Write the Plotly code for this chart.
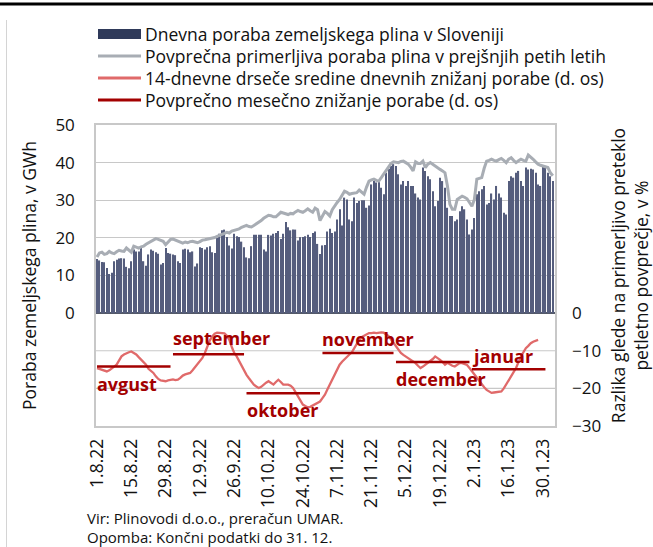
import plotly.graph_objects as go
import pandas as pd

# ---------------- data ----------------
start_date = "2022-08-01"

# daily natural gas consumption in Slovenia, GWh (1.8.2022 - 3.2.2023)
daily_use = [
    14.4, 14.0, 13.6, 13.5, 12.0, 10.4, 10.7, 13.8, 14.2, 14.5,
    14.6, 14.5, 12.3, 11.9, 13.8, 16.9, 16.4, 16.4, 17.3, 13.8,
    12.6, 15.6, 16.9, 16.6, 16.2, 15.8, 12.9, 13.3, 17.3, 16.0,
    15.8, 15.6, 15.4, 13.8, 13.3, 16.9, 17.1, 16.9, 16.2, 16.4,
    12.4, 13.2, 17.5, 17.3, 16.9, 17.5, 17.8, 16.2, 16.0, 20.0,
    21.1, 22.0, 22.2, 20.2, 18.0, 17.2, 21.1, 20.4, 20.2, 19.0,
    17.5, 14.8, 14.6, 17.8, 20.8, 20.8, 20.8, 20.8, 16.9, 16.4,
    20.8, 20.6, 21.1, 21.3, 21.8, 19.7, 21.1, 24.2, 22.8, 22.0,
    22.2, 22.2, 19.3, 20.2, 20.2, 20.4, 20.8, 20.2, 21.3, 21.7,
    18.4, 15.7, 18.0, 18.1, 21.7, 22.4, 21.3, 21.7, 24.9, 27.6,
    23.3, 30.7, 30.2, 24.9, 24.4, 30.7, 29.3, 29.8, 30.0, 30.0,
    28.0, 28.6, 34.2, 35.1, 34.7, 35.1, 33.3, 31.6, 37.3, 38.4,
    39.1, 39.6, 39.1, 36.9, 34.2, 35.1, 33.8, 35.1, 33.8, 33.8,
    31.8, 30.7, 30.2, 38.7, 37.8, 36.4, 35.6, 32.4, 28.4, 29.8,
    36.0, 35.1, 33.3, 28.0, 25.8, 25.8, 24.4, 24.9, 27.1, 28.4,
    27.6, 24.9, 20.9, 22.2, 25.3, 31.6, 32.4, 32.9, 33.8, 28.9,
    29.3, 31.8, 30.2, 33.8, 31.8, 30.7, 26.7, 26.2, 35.1, 36.4,
    36.0, 37.3, 37.8, 35.1, 33.8, 38.7, 38.2, 38.4, 38.2, 37.3,
    34.2, 33.8, 39.1, 38.7, 37.3, 36.4, 35.1,
]

# average comparable consumption in the previous five years, GWh
avg_5y = [
    14.9, 16.0, 16.2, 15.6, 15.8, 16.4, 16.0, 15.8, 16.3, 16.7,
    16.5, 16.4, 17.3, 16.8, 16.2, 17.8, 17.5, 17.3, 17.6, 17.8,
    18.3, 18.7, 19.2, 19.6, 19.8, 19.6, 19.4, 19.1, 18.2, 19.0,
    19.6, 19.7, 19.4, 19.0, 18.7, 18.6, 18.9, 18.7, 19.0, 19.1,
    18.9, 18.7, 19.0, 19.4, 19.5, 19.6, 19.8, 20.0, 20.1, 20.4,
    20.6, 20.9, 21.2, 21.5, 21.3, 21.8, 22.0, 22.1, 22.4, 22.8,
    23.0, 23.3, 23.0, 22.9, 23.3, 23.7, 24.2, 24.6, 25.2, 25.6,
    26.0, 25.9, 25.6, 25.6, 26.2, 26.8, 26.6, 26.4, 26.2, 26.5,
    26.4, 26.9, 27.3, 27.0, 26.8, 27.2, 27.7, 27.2, 26.8, 27.9,
    27.5, 24.6, 26.0, 27.0, 26.5, 25.8, 27.5, 28.6, 29.4, 30.2,
    31.2, 32.4, 32.1, 31.6, 31.8, 32.0, 32.0, 32.7, 32.2, 31.6,
    33.5, 35.1, 35.4, 35.6, 35.3, 35.1, 36.0, 36.9, 37.8, 38.8,
    39.8, 40.2, 40.0, 40.0, 40.3, 40.4, 40.0, 39.6, 38.8, 37.8,
    40.2, 39.8, 39.8, 40.4, 38.7, 39.6, 40.0, 39.5, 39.1, 38.6,
    38.2, 37.8, 37.3, 33.8, 28.9, 27.6, 27.6, 30.2, 30.6, 31.1,
    30.8, 30.4, 29.4, 28.4, 30.2, 35.6, 35.8, 36.0, 38.5, 40.4,
    40.6, 40.9, 40.6, 40.4, 40.8, 41.1, 40.6, 40.0, 40.9, 41.3,
    40.6, 40.0, 40.5, 40.9, 40.6, 40.4, 42.0, 41.5, 40.9, 40.2,
    39.6, 39.3, 39.1, 38.9, 38.7, 37.3, 36.5,
]

# 14-day moving average of daily consumption reductions, % (right axis)
ma14_reduction = [
    -14.6, -14.8, -15.0, -15.3, -15.5, -15.2, -14.6, -14.2, -13.7, -12.6,
    -11.5, -11.0, -10.6, -10.4, -10.2, -10.6, -11.0, -11.7, -12.4, -13.0,
    -13.7, -14.8, -15.4, -15.9, -16.8, -17.5, -17.9, -18.0, -18.1, -17.9,
    -17.7, -17.6, -17.8, -17.7, -17.2, -16.6, -16.3, -16.0, -15.9, -15.2,
    -14.4, -13.4, -12.6, -11.9, -10.6, -8.8, -7.3, -6.2, -5.5, -5.2,
    -5.3, -5.3, -5.4, -6.0, -7.1, -9.0, -10.6, -11.5, -12.8, -14.0,
    -15.3, -16.4, -17.3, -18.2, -19.0, -19.5, -19.9, -19.6, -19.0, -18.5,
    -18.1, -18.5, -19.0, -18.3, -17.7, -18.3, -19.0, -19.0, -19.0, -19.3,
    -19.9, -21.0, -22.1, -23.2, -24.3, -24.7, -25.0, -24.9, -24.6, -24.3,
    -23.9, -23.5, -22.6, -21.7, -20.3, -19.0, -17.6, -16.4, -15.0, -13.7,
    -12.9, -12.2, -11.6, -11.0, -10.4, -9.1, -8.2, -7.3, -6.4, -6.0,
    -5.6, -5.3, -5.3, -5.2, -5.3, -5.2, -5.1, -5.2, -5.6, -6.1,
    -7.0, -7.9, -8.8, -9.7, -10.6, -11.1, -11.5, -11.9, -12.4, -12.9,
    -13.3, -14.0, -14.6, -14.2, -13.7, -13.2, -12.8, -12.2, -11.5, -11.9,
    -12.4, -13.0, -13.7, -13.2, -13.7, -14.0, -14.2, -13.8, -13.3, -13.3,
    -13.5, -13.8, -14.6, -15.5, -16.4, -17.3, -18.2, -19.0, -19.7, -20.4,
    -20.8, -21.2, -21.1, -21.0, -21.0, -20.8, -20.0, -19.0, -17.9, -16.8,
    -15.7, -14.6, -13.0, -11.5, -10.4, -9.3, -8.7, -8.0, -7.6, -7.3,
    -7.1,
]

# average monthly reduction, % (right axis)
month_names = ["avgust", "september", "oktober", "november", "december", "januar"]
month_first = ["2022-08-01", "2022-09-01", "2022-10-01", "2022-11-01", "2022-12-01", "2023-01-01"]
month_last = ["2022-08-31", "2022-09-30", "2022-10-31", "2022-11-30", "2022-12-31", "2023-01-31"]
month_avg = [-14.2, -10.9, -21.3, -10.6, -13.0, -14.9]

left_ticks = [0, 10, 20, 30, 40, 50]
right_ticks = [0, -10, -20, -30]
tick_first = "2022-08-01"
tick_last = "2023-01-30"
tick_step_days = 14

legend_names = [
    "Dnevna poraba zemeljskega plina v Sloveniji",
    "Povprečna primerljiva poraba plina v prejšnjih petih letih",
    "14-dnevne drseče sredine dnevnih znižanj porabe (d. os)",
    "Povprečno mesečno znižanje porabe (d. os)",
]
source_lines = ["Vir: Plinovodi d.o.o., preračun UMAR.", "Opomba: Končni podatki do 31. 12."]

# ---------------- styling ----------------
W, H = 653, 547
L, R, T, B = 96, 555, 125, 426
FONT = "Open Sans"
C_BAR = "#555d7d"
C_BAR_LEG = "#2f3a5a"
C_AVG = "#a8adb4"
C_MA = "#e06a6a"
C_MON = "#a30000"
C_GRID = "#c8c8c8"


def px(x):
    return (x - L) / (R - L)


def py(y):
    return (B - y) / (B - T)


dates = pd.date_range(start_date, periods=len(daily_use), freq="D")
ma_dates = pd.date_range(start_date, periods=len(ma14_reduction), freq="D")

mon_x, mon_y = [], []
for f, l, v in zip(month_first, month_last, month_avg):
    mon_x += [f, l, None]
    mon_y += [v, v, None]

tickdates = pd.date_range(tick_first, tick_last, freq=f"{tick_step_days}D")
ticktext = [f"{d.day}.{d.month}.{d.year % 100}" for d in tickdates]

fig = go.Figure()
fig.add_trace(go.Bar(x=dates, y=daily_use, marker=dict(color=C_BAR, line=dict(width=0)),
                     name=legend_names[0], showlegend=False, yaxis="y"))
fig.add_trace(go.Scatter(x=dates, y=avg_5y, mode="lines", line=dict(color=C_AVG, width=3),
                         name=legend_names[1], showlegend=False, yaxis="y"))
fig.add_trace(go.Scatter(x=ma_dates, y=ma14_reduction, mode="lines", line=dict(color=C_MA, width=2.3),
                         name=legend_names[2], showlegend=False, yaxis="y2"))
fig.add_trace(go.Scatter(x=mon_x, y=mon_y, mode="lines", line=dict(color=C_MON, width=2.5),
                         name=legend_names[3], showlegend=False, yaxis="y2", connectgaps=False))

x0 = pd.Timestamp(start_date) - pd.Timedelta(hours=10)
x1 = pd.Timestamp(start_date) + pd.Timedelta(days=186.9)

shapes = []
annotations = []

# custom legend
leg_rows = [34, 56, 78, 100]
leg_colors = [C_BAR_LEG, C_AVG, C_MA, C_MON]
for i, (name, yy, col) in enumerate(zip(legend_names, leg_rows, leg_colors)):
    if i == 0:
        shapes.append(dict(type="rect", xref="paper", yref="paper", x0=px(98), x1=px(141),
                           y0=py(yy + 5), y1=py(yy - 5), fillcolor=col, line=dict(width=0)))
    else:
        shapes.append(dict(type="line", xref="paper", yref="paper", x0=px(98), x1=px(141),
                           y0=py(yy), y1=py(yy), line=dict(color=col, width=3)))
    annotations.append(dict(text=name, xref="paper", yref="paper", x=px(143), y=py(yy),
                            xanchor="left", yanchor="middle", showarrow=False,
                            font=dict(family=FONT, size=17.5, color="#111")))

# top black rule and left frame line
shapes.append(dict(type="line", xref="paper", yref="paper", x0=px(0), x1=px(W), y0=py(4), y1=py(4),
                   line=dict(color="#000", width=3)))
shapes.append(dict(type="line", xref="paper", yref="paper", x0=px(6.5), x1=px(6.5), y0=py(20), y1=py(H),
                   line=dict(color="#d4d4d4", width=1)))

# month labels
label_shift = [-17, 16, -17, 14, -17, 13]
for name, f, v, s in zip(month_names, month_first, month_avg, label_shift):
    annotations.append(dict(text=f"<b>{name}</b>", x=f, y=v, xref="x", yref="y2",
                            xanchor="left", yanchor="middle", yshift=s, xshift=-2, showarrow=False,
                            font=dict(family=FONT, size=18, color=C_MON)))

# source lines
for txt, yy in zip(source_lines, [518, 537]):
    annotations.append(dict(text=txt, xref="paper", yref="paper", x=px(85), y=py(yy),
                            xanchor="left", yanchor="middle", showarrow=False,
                            font=dict(family=FONT, size=15, color="#111")))

fig.update_layout(
    width=W, height=H,
    margin=dict(l=L, r=W - R, t=T, b=H - B, autoexpand=False),
    paper_bgcolor="white", plot_bgcolor="white",
    bargap=0.5,
    showlegend=False,
    font=dict(family=FONT, color="#111"),
    xaxis=dict(type="date", range=[x0, x1], tickmode="array", tickvals=tickdates, ticktext=ticktext,
               tickangle=-90, tickfont=dict(family=FONT, size=17.5, color="#111"), ticks="",
               ticklabelstandoff=4, showgrid=False, showline=True, mirror=True,
               linecolor=C_GRID, linewidth=1.5, zeroline=False),
    yaxis=dict(range=[-30, 50], tickmode="array", tickvals=left_ticks,
               tickfont=dict(family=FONT, size=17, color="#111"), ticks="", ticklabelstandoff=16,
               showgrid=True, gridcolor=C_GRID, gridwidth=1.2,
               showline=True, mirror=True, linecolor=C_GRID, linewidth=1.5,
               zeroline=True, zerolinecolor="#555a66", zerolinewidth=1.5,
               title=dict(text="Poraba zemeljskega plina, v GWh", standoff=14,
                          font=dict(family=FONT, size=17.5, color="#111"))),
    yaxis2=dict(range=[-30, 50], overlaying="y", side="right", tickmode="array", tickvals=right_ticks,
                tickfont=dict(family=FONT, size=17, color="#111"), ticks="", ticklabelstandoff=16,
                showgrid=False, zeroline=False, showline=False,
                title=dict(text="Razlika glede na primerljivo preteklo<br>petletno povprečje, v %",
                           standoff=12, font=dict(family=FONT, size=17.5, color="#111"))),
    shapes=shapes,
    annotations=annotations,
)

# gridlines below zero (left axis only labels the positive part)
for g in [-10, -20]:
    fig.add_shape(type="line", xref="paper", yref="y", x0=0, x1=1, y0=g, y1=g,
                  line=dict(color=C_GRID, width=1.2), layer="below")

fig.write_html("out.html")
